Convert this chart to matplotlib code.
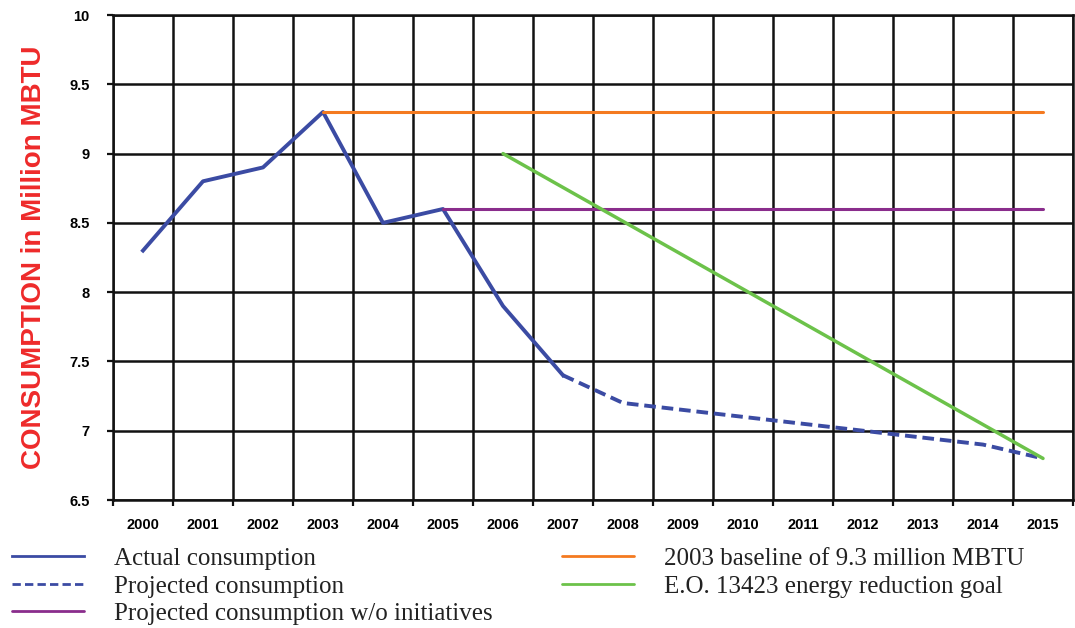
import numpy as np
import matplotlib
matplotlib.use("Agg")
import matplotlib.pyplot as plt

years = ["2000", "2001", "2002", "2003", "2004", "2005", "2006", "2007",
         "2008", "2009", "2010", "2011", "2012", "2013", "2014", "2015"]

# actual consumption 2000-2007, projection 2007-2015 (million MBTU)
actual = [8.3, 8.8, 8.9, 9.3, 8.5, 8.6, 7.9, 7.4]
projected = [7.4, 7.2, 7.15, 7.1, 7.05, 7.0, 6.95, 6.9, 6.8]
baseline = 9.3          # 2003 level, held through 2015
no_initiatives = 8.6    # 2005 level, held through 2015
goal_start, goal_end = 9.0, 6.8   # E.O. 13423 from 2006 to 2015

yticks = [6.5, 7, 7.5, 8, 8.5, 9, 9.5, 10]
ytick_labels = ["6.5", "7", "7.5", "8", "8.5", "9", "9.5", "10"]

x = np.arange(len(years))

fig = plt.figure(figsize=(10.75, 6.28), dpi=100)
ax = fig.add_axes([113/1075, 1 - 500/628, 960/1075, 485/628])

blue = "#3b4ba3"
orange = "#f47a20"
purple = "#8a2d8c"
green = "#6cc24a"

l_act, = ax.plot(x[:len(actual)], actual, color=blue, lw=2.8,
                 solid_joinstyle="round", label="Actual consumption")
l_proj, = ax.plot(x[len(actual)-1:], projected, color=blue, lw=2.8,
                  dashes=(3.0, 1.5), label="Projected consumption")
l_noinit, = ax.plot([x[5], x[-1]], [no_initiatives, no_initiatives], color=purple,
                    lw=2.2, solid_capstyle="round",
                    label="Projected consumption w/o initiatives")
l_base, = ax.plot([x[3], x[-1]], [baseline, baseline], color=orange, lw=2.2,
                  solid_capstyle="round", label="2003 baseline of 9.3 million MBTU")
l_goal, = ax.plot([x[6], x[-1]], [goal_start, goal_end], color=green, lw=2.5,
                  solid_capstyle="round", label="E.O. 13423 energy reduction goal")

ax.set_xlim(-0.5, len(years) - 0.5)
ax.set_ylim(6.5, 10)

# year labels sit between grid lines; grid lines on the minor ticks
ax.set_xticks(x)
ax.set_xticklabels(years, fontsize=10.5, fontweight="bold", family="Liberation Sans")
ax.set_xticks(np.arange(-0.5, len(years)), minor=True)
ax.tick_params(axis="x", which="major", length=0, pad=13)
ax.tick_params(axis="x", which="minor", length=4, width=1.6, color="#111111")
ax.set_yticks(yticks)
ax.set_yticklabels(ytick_labels, fontsize=10.5, fontweight="bold", family="Liberation Sans")
ax.tick_params(axis="y", length=4, width=1.6, color="#111111", pad=13)

ax.grid(True, which="minor", axis="x", color="#111111", lw=1.8)
ax.grid(True, which="major", axis="y", color="#111111", lw=1.8)
ax.set_axisbelow(True)
for s in ax.spines.values():
    s.set_color("#111111")
    s.set_linewidth(1.8)

ax.set_ylabel("CONSUMPTION in Million MBTU", color="#ee2a2a", fontsize=20,
              fontweight="bold", family="Liberation Sans")
ax.yaxis.set_label_coords(-0.069, 0.5)

leg = fig.legend(handles=[l_act, l_proj, l_noinit, l_base, l_goal],
                 loc="upper left", bbox_to_anchor=(0.011, 0.128), ncol=2,
                 frameon=False, prop={"family": "Liberation Serif", "size": 18},
                 handlelength=2.9, handletextpad=1.2, columnspacing=2.75,
                 labelspacing=0.2, borderpad=0, borderaxespad=0)
for line in leg.get_lines():
    line.set_linewidth(2.0)
for t in leg.get_texts():
    t.set_color("#222222")

fig.savefig("out.png", dpi=100)
